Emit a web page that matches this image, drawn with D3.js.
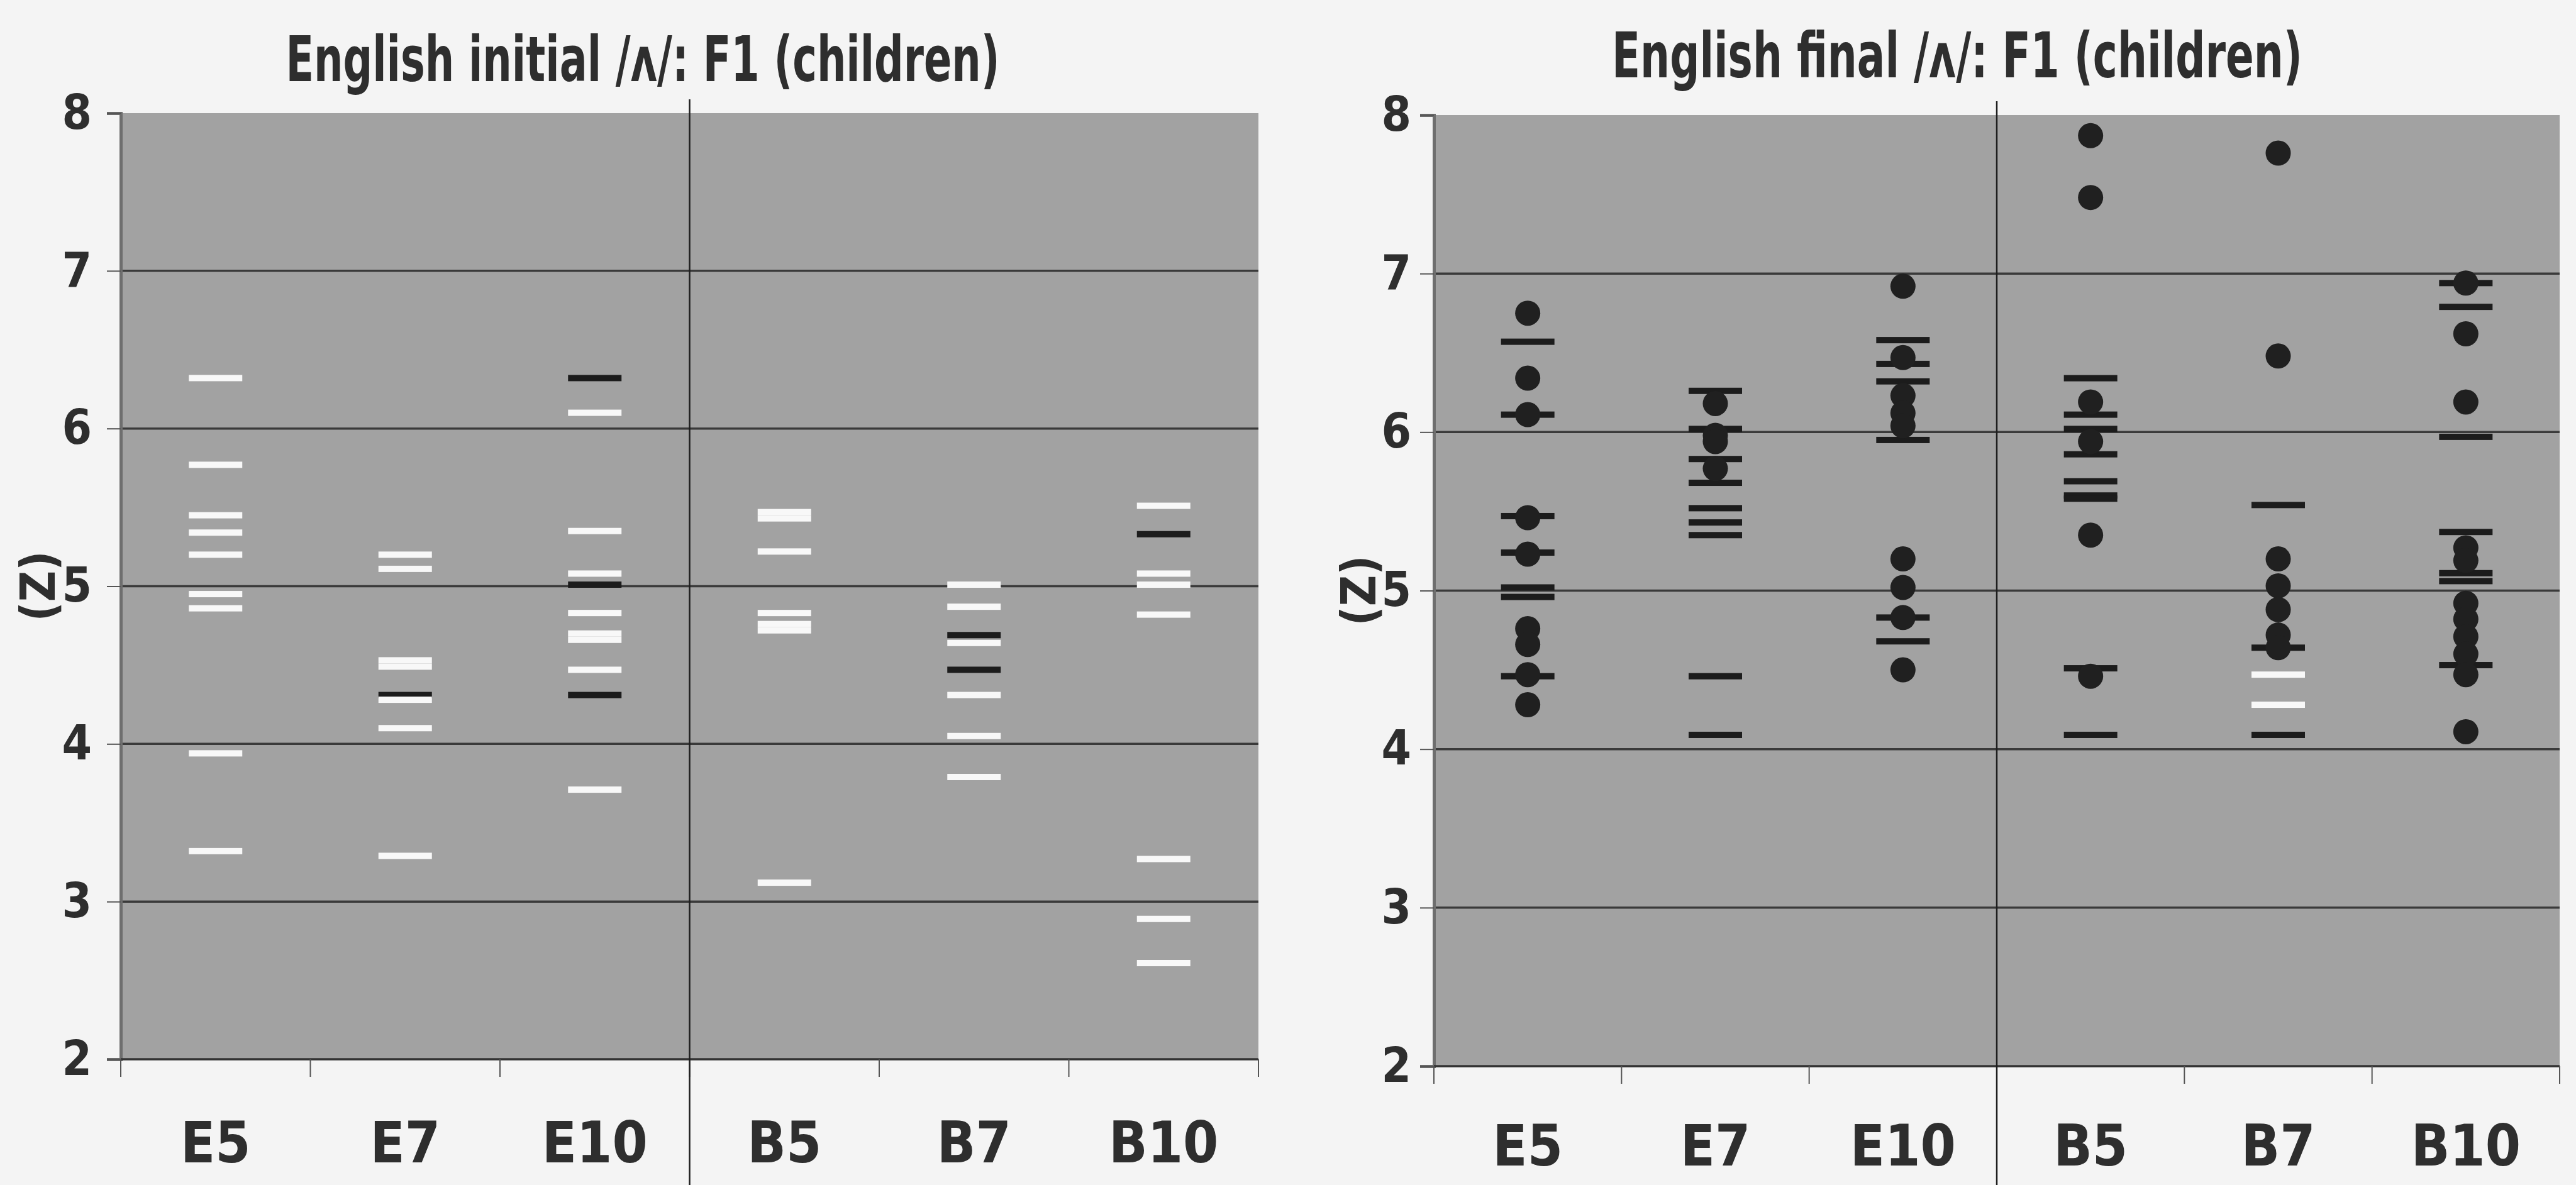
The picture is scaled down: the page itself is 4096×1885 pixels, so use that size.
<!DOCTYPE html>
<html lang="en">
  <head>
    <meta charset="UTF-8" />
    <title>English /ʌ/ F1 (children)</title>
    <script src="https://d3js.org/d3.v7.min.js"></script>
    <style>
      html, body { margin: 0; padding: 0; background: #f4f4f4; }
      svg { display: block; }
      text {
        font-family: "Liberation Sans Narrow", "Arial Narrow", "DejaVu Sans Condensed", sans-serif;
        font-weight: bold;
        fill: #2e2e2e;
      }
    </style>
  </head>
  <body>
    <svg id="chart" width="4096" height="1885"></svg>

    <script>
      // 1. Data
      const categories = ["E5", "E7", "E10", "B5", "B7", "B10"];
      const yTicks = [2, 3, 4, 5, 6, 7, 8];

      // initial /ʌ/ : white and black dashes per category
      const initialWhite = [
        [6.32, 5.77, 5.45, 5.34, 5.2, 4.95, 4.86, 3.94, 3.32],
        [5.2, 5.11, 4.53, 4.49, 4.28, 4.1, 3.29],
        [6.1, 5.35, 5.08, 4.83, 4.7, 4.66, 4.47, 3.71],
        [5.47, 5.43, 5.22, 4.83, 4.76, 4.72, 3.12],
        [5.01, 4.87, 4.64, 4.31, 4.05, 3.79],
        [5.51, 5.08, 5.01, 4.82, 3.27, 2.89, 2.61]
      ];
      const initialBlack = [
        [],
        [4.31],
        [6.32, 5.01, 4.31],
        [],
        [4.69, 4.47],
        [5.33]
      ];

      // final /ʌ/ : dots, black dashes, white dashes per category
      const finalDots = [
        [6.75, 6.34, 6.11, 5.46, 5.23, 4.76, 4.66, 4.47, 4.28],
        [6.18, 5.98, 5.94, 5.77],
        [6.92, 6.47, 6.23, 6.12, 6.04, 5.2, 5.02, 4.83, 4.5],
        [7.87, 7.48, 6.19, 5.94, 5.35, 4.46],
        [7.76, 6.48, 5.2, 5.03, 4.88, 4.72, 4.64],
        [6.94, 6.62, 6.19, 5.27, 5.19, 4.92, 4.82, 4.71, 4.6, 4.47, 4.11]
      ];
      const finalBlack = [
        [6.57, 6.11, 5.47, 5.24, 5.02, 4.96, 4.46],
        [6.26, 6.02, 5.83, 5.68, 5.52, 5.43, 5.35, 4.46, 4.09],
        [6.58, 6.43, 6.32, 5.95, 4.83, 4.68],
        [6.34, 6.11, 6.02, 5.86, 5.69, 5.6, 5.58, 4.51, 4.09],
        [5.54, 4.64, 4.09],
        [6.94, 6.79, 5.97, 5.37, 5.11, 5.06, 4.53]
      ];
      const finalWhite = [[], [], [], [], [4.47, 4.28], []];

      // 2. Dimensions
      const width = 4096;
      const height = 1885;

      const svg = d3.select("#chart");
      svg.append("rect").attr("width", width).attr("height", height).attr("fill", "#f4f4f4");

      // flatten per-category arrays into {cat, v}
      const flat = (arr) => arr.flatMap((vals, i) => vals.map((v) => ({ cat: categories[i], v })));

      function drawPanel(p) {
        const x = d3.scaleBand().domain(categories).range([p.x0, p.x1]);
        const y = d3.scaleLinear().domain([2, 8]).range([p.yBot, p.yTop]);
        const g = svg.append("g");

        // plot area
        g.append("rect")
          .attr("x", p.x0)
          .attr("y", p.yTop)
          .attr("width", p.x1 - p.x0)
          .attr("height", p.yBot - p.yTop)
          .attr("fill", "#a2a2a2");

        // grid lines
        g.selectAll(".grid")
          .data(yTicks.filter((t) => t > 2 && t < 8))
          .join("line")
          .attr("x1", p.x0)
          .attr("x2", p.x1)
          .attr("y1", (d) => y(d))
          .attr("y2", (d) => y(d))
          .attr("stroke", "#3a3a3a")
          .attr("stroke-width", 3.5);

        // y axis
        const yAxis = g.append("g")
          .attr("transform", `translate(${p.x0},0)`)
          .call(d3.axisLeft(y).tickValues(yTicks).tickSize(22).tickPadding(p.tickPad).tickFormat(d3.format("d")));
        yAxis.select(".domain").attr("stroke", "#6e6e6e").attr("stroke-width", 5);
        yAxis.selectAll(".tick line").attr("stroke", "#555").attr("stroke-width", 2);
        yAxis.selectAll(".tick text").attr("font-size", 76).attr("fill", "#333");

        // x axis line and category boundary ticks
        g.append("line")
          .attr("x1", p.x0)
          .attr("x2", p.x1)
          .attr("y1", y(2))
          .attr("y2", y(2))
          .attr("stroke", "#333")
          .attr("stroke-width", 3.5);
        const bounds = categories.map((c) => x(c)).concat([p.x1]);
        g.selectAll(".xtick")
          .data(bounds)
          .join("line")
          .attr("x1", (d) => d)
          .attr("x2", (d) => d)
          .attr("y1", y(2))
          .attr("y2", y(2) + 28)
          .attr("stroke", "#555")
          .attr("stroke-width", 2);

        const xAxis = g.append("g")
          .attr("transform", `translate(0,${p.yBot})`)
          .call(d3.axisBottom(x).tickSize(0).tickPadding(p.labelPad));
        xAxis.select(".domain").remove();
        xAxis.selectAll(".tick text").attr("font-size", 90).attr("fill", "#2e2e2e");

        // dashes
        const dashW = 85;
        const dashH = 10;
        const drawDashes = (data, color) =>
          g.append("g")
            .selectAll("rect")
            .data(flat(data))
            .join("rect")
            .attr("x", (d) => x(d.cat) + x.bandwidth() / 2 - dashW / 2)
            .attr("y", (d) => y(d.v) - dashH / 2)
            .attr("width", dashW)
            .attr("height", dashH)
            .attr("fill", color);

        if (p.black) drawDashes(p.black, "#1c1c1c");
        if (p.dots) {
          g.append("g")
            .selectAll("circle")
            .data(flat(p.dots))
            .join("circle")
            .attr("cx", (d) => x(d.cat) + x.bandwidth() / 2)
            .attr("cy", (d) => y(d.v))
            .attr("r", 20)
            .attr("fill", "#202020");
        }
        if (p.white) drawDashes(p.white, "#f8f8f8");

        // divider between E and B groups
        g.append("line")
          .attr("x1", x("B5"))
          .attr("x2", x("B5"))
          .attr("y1", p.yTop - 22)
          .attr("y2", height)
          .attr("stroke", "#1e1e1e")
          .attr("stroke-width", 2.5);

        // title
        g.append("text")
          .attr("x", p.titleX)
          .attr("y", p.titleY)
          .attr("text-anchor", "middle")
          .attr("font-size", 100)
          .attr("textLength", p.titleLen)
          .attr("lengthAdjust", "spacingAndGlyphs")
          .text(p.title);

        // y label
        g.append("text")
          .attr("transform", `translate(${p.labelX},${y(5)}) rotate(-90)`)
          .attr("text-anchor", "middle")
          .attr("dy", "0.35em")
          .attr("font-size", 76)
          .text("(Z)");
      }

      drawPanel({
        x0: 192, x1: 2001, yTop: 180, yBot: 1685,
        tickPad: 24, labelPad: 100,
        title: "English initial /ʌ/: F1 (children)",
        titleX: 1022, titleY: 129, titleLen: 1135,
        labelX: 60,
        white: initialWhite,
        black: initialBlack
      });

      drawPanel({
        x0: 2280, x1: 4070, yTop: 183, yBot: 1696,
        tickPad: 14, labelPad: 94,
        title: "English final /ʌ/: F1 (children)",
        titleX: 3112, titleY: 123, titleLen: 1098,
        labelX: 2160,
        dots: finalDots,
        black: finalBlack,
        white: finalWhite
      });
    </script>
  </body>
</html>
